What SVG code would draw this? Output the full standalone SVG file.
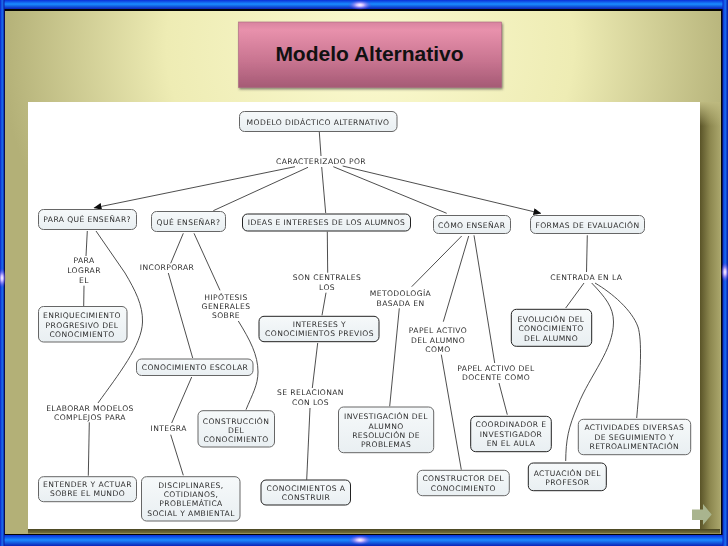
<svg xmlns="http://www.w3.org/2000/svg" width="728" height="546" viewBox="0 0 728 546">
<style>
.n{fill:url(#nf);stroke:#666;stroke-width:1}
.d{stroke:#222}
.c{fill:none;stroke:#3a3a3a;stroke-width:.9}
text{font-family:"DejaVu Sans",Verdana,sans-serif;font-size:7.6px;letter-spacing:.4px;fill:#2e2e2e;text-anchor:middle;dominant-baseline:central}
.tt{font-family:"Liberation Sans",Arial,sans-serif;font-size:21px;letter-spacing:0;font-weight:700;fill:#111}
</style>
<defs>
<linearGradient id="nf" x1="0" y1="0" x2="0" y2="1"><stop offset="0" stop-color="#f6f9fa"/><stop offset="1" stop-color="#e9eff2"/></linearGradient>
<radialGradient id="bg" gradientUnits="userSpaceOnUse" cx="370" cy="30" r="370" gradientTransform="translate(0 20) scale(1 .9)"><stop offset="0" stop-color="#fbfad0"/><stop offset=".55" stop-color="#eeecb4"/><stop offset="1" stop-color="#b3b077"/></radialGradient>
<linearGradient id="tb" x1="0" y1="0" x2="0" y2="1"><stop offset="0" stop-color="#d8839f"/><stop offset=".12" stop-color="#e891ac"/><stop offset=".6" stop-color="#c87490"/><stop offset="1" stop-color="#a55a75"/></linearGradient>
<linearGradient id="bh" x1="0" y1="0" x2="0" y2="1"><stop offset="0" stop-color="#0a2fd8"/><stop offset=".45" stop-color="#1a8cff"/><stop offset="1" stop-color="#0a22b8"/></linearGradient>
<linearGradient id="bv" x1="0" y1="0" x2="1" y2="0"><stop offset="0" stop-color="#0a22c8"/><stop offset=".5" stop-color="#1a70f0"/><stop offset="1" stop-color="#0a18a0"/></linearGradient>
<linearGradient id="sr" x1="0" y1="0" x2="1" y2="0"><stop offset="0" stop-color="#5a5428"/><stop offset=".5" stop-color="#8d8850"/><stop offset="1" stop-color="#aaa66c"/></linearGradient>
<linearGradient id="sf" x1="0" y1="0" x2="0" y2="1"><stop offset="0" stop-color="#bdb97f"/><stop offset="1" stop-color="#bdb97f" stop-opacity="0"/></linearGradient>
<linearGradient id="sb" x1="0" y1="0" x2="0" y2="1"><stop offset="0" stop-color="#4a4622"/><stop offset="1" stop-color="#77723c"/></linearGradient>
<radialGradient id="sp"><stop offset="0" stop-color="#fff"/><stop offset=".3" stop-color="#c8b8ff"/><stop offset="1" stop-color="#5a30e0" stop-opacity="0"/></radialGradient>
<marker id="ah" markerUnits="userSpaceOnUse" markerWidth="8" markerHeight="7" refX="7" refY="3.5" orient="auto"><path d="M0,0L8,3.5L0,7Z" fill="#111"/></marker>
<filter id="soft" x="-2%" y="-2%" width="104%" height="104%"><feGaussianBlur stdDeviation=".3"/></filter>
<filter id="ts" x="-5%" y="-10%" width="110%" height="125%"><feDropShadow dx="1" dy="1.5" stdDeviation="1" flood-color="#333" flood-opacity=".6"/></filter>
</defs>

<rect id="frame" width="728" height="546" fill="#050505"/>
<rect x="5" y="11" width="716" height="523" fill="url(#bg)"/>
<rect x="0" y="0" width="728" height="9" fill="url(#bh)"/>
<rect x="0" y="535" width="728" height="11" fill="url(#bh)"/>
<rect x="0" y="0" width="4.500" height="546" fill="url(#bv)"/>
<rect x="722.500" y="0" width="5.500" height="546" fill="url(#bv)"/>
<rect x="700" y="102" width="20.500" height="431" fill="url(#sr)"/>
<rect x="700" y="102" width="20.500" height="24" fill="url(#sf)"/>
<rect x="28" y="529" width="692" height="4.500" fill="url(#sb)"/>
<rect x="28" y="102" width="672" height="427" fill="#fff"/>
<ellipse cx="360" cy="5" rx="12" ry="5" fill="url(#sp)"/>
<ellipse cx="360" cy="540" rx="12" ry="5" fill="url(#sp)"/>
<ellipse cx="2" cy="278" rx="4" ry="10" fill="url(#sp)"/>
<ellipse cx="725" cy="272" rx="4" ry="10" fill="url(#sp)"/>

<g id="title">
<rect x="238.500" y="22" width="263" height="65.500" fill="url(#tb)" stroke="#a96a80" stroke-width=".6" filter="url(#ts)"/>
<text class="tt" x="369.500" y="53.500">Modelo Alternativo</text>
</g>

<g id="diagram" filter="url(#soft)">
<g id="connectors">
<path class="c" d="M319.300,132L321,156"/>
<path class="c" d="M321.700,167L325.700,213"/>
<path class="c" marker-end="url(#ah)" d="M295,166.700L94.500,207.800"/>
<path class="c" d="M308,167.300L213.300,210.700"/>
<path class="c" d="M333.300,166.700L446.700,213.300"/>
<path class="c" marker-end="url(#ah)" d="M342.700,166L540.500,213.300"/>
<path class="c" d="M87.300,231L86,256"/>
<path class="c" d="M84,285.700L83.700,306"/>
<path class="c" d="M96,231L125,273C135,290 143,305 142.500,322C142,345 118,375 98,403"/>
<path class="c" d="M89.300,422.300L88.300,475.700"/>
<path class="c" d="M183.300,233.300L170.700,263.300"/>
<path class="c" d="M168.300,273L192.700,358"/>
<path class="c" d="M194,233.300L220,290.300"/>
<path class="c" d="M238.300,321C250,340 258,355 258,372C258,385 252,395 246,409.700"/>
<path class="c" d="M191.700,377L171.700,423"/>
<path class="c" d="M170.700,434.700L183.300,475.300"/>
<path class="c" d="M327.300,231.700L327.700,272.700"/>
<path class="c" d="M326,292.700L322,315.300"/>
<path class="c" d="M317.700,343L312.300,388"/>
<path class="c" d="M310,408L306.700,479.700"/>
<path class="c" d="M461.700,236L411.700,286.700"/>
<path class="c" d="M399.300,308.300L389.700,406.300"/>
<path class="c" d="M468.700,236L443.300,321.700"/>
<path class="c" d="M441.300,354.700L461.300,469.700"/>
<path class="c" d="M474,235.300L494.700,363"/>
<path class="c" d="M499,383L507.300,414.700"/>
<path class="c" d="M587.300,235.300L586.500,272"/>
<path class="c" d="M584,283L565.700,308"/>
<path class="c" d="M591.700,283C605,297 613.500,307 613.500,322C613.500,350 590,375 578,405C568,428 566,440 565.700,461"/>
<path class="c" d="M595,283C612,293 632,310 638,327C642,340 641,370 636.700,418"/>
</g>

<g id="labels">
<text x="321" y="161">CARACTERIZADO POR</text>
<text x="84" y="260.700">PARA</text><text x="84" y="270">LOGRAR</text><text x="84" y="280.300">EL</text>
<text x="167" y="267">INCORPORAR</text>
<text x="226" y="297">HIPÓTESIS</text><text x="226" y="306">GENERALES</text><text x="226" y="315.500">SOBRE</text>
<text x="90" y="408">ELABORAR MODELOS</text><text x="90" y="417">COMPLEJOS PARA</text>
<text x="168.700" y="428.500">INTEGRA</text>
<text x="327" y="277">SON CENTRALES</text><text x="327" y="287">LOS</text>
<text x="310.500" y="392.500">SE RELACIONAN</text><text x="310.500" y="402">CON LOS</text>
<text x="400.500" y="293">METODOLOGÍA</text><text x="400.500" y="303">BASADA EN</text>
<text x="438" y="330.700">PAPEL ACTIVO</text><text x="438" y="340">DEL ALUMNO</text><text x="438" y="349.300">COMO</text>
<text x="496" y="368">PAPEL ACTIVO DEL</text><text x="496" y="377.700">DOCENTE COMO</text>
<text x="586.300" y="277.300">CENTRADA EN LA</text>
</g>

<g id="n-modelo"><rect class="n" x="239.500" y="111.500" width="157.500" height="20" rx="5"/><text x="318" y="122.300">MODELO DIDÁCTICO ALTERNATIVO</text></g>
<g id="n-para"><rect class="n" x="38.500" y="209.500" width="98" height="20" rx="5"/><text x="87.200" y="219.300">PARA QUÉ ENSEÑAR?</text></g>
<g id="n-que"><rect class="n" x="151.500" y="211.500" width="74" height="20" rx="5"/><text x="188.500" y="222.700">QUÉ ENSEÑAR?</text></g>
<g id="n-ideas"><rect class="n d" x="242.500" y="214" width="168" height="17" rx="5"/><text x="326.500" y="222">IDEAS E INTERESES DE LOS ALUMNOS</text></g>
<g id="n-como"><rect class="n" x="433.500" y="215.500" width="77" height="18" rx="5"/><text x="471.700" y="225.300">CÓMO ENSEÑAR</text></g>
<g id="n-formas"><rect class="n" x="530.500" y="215.500" width="114" height="18" rx="5"/><text x="587.500" y="225.300">FORMAS DE EVALUACIÓN</text></g>
<g id="n-enriq"><rect class="n" x="38.500" y="306.500" width="88.500" height="35.500" rx="5"/><text x="82" y="315.300">ENRIQUECIMIENTO</text><text x="82" y="325">PROGRESIVO DEL</text><text x="82" y="334">CONOCIMIENTO</text></g>
<g id="n-escolar"><rect class="n" x="136.500" y="359" width="116.500" height="16.500" rx="5"/><text x="195" y="367">CONOCIMIENTO ESCOLAR</text></g>
<g id="n-construccion"><rect class="n" x="198" y="410.700" width="76.500" height="36.300" rx="5"/><text x="236" y="421">CONSTRUCCIÓN</text><text x="236" y="430.300">DEL</text><text x="236" y="439.700">CONOCIMIENTO</text></g>
<g id="n-entender"><rect class="n" x="38.500" y="476.700" width="98" height="25" rx="5"/><text x="87.500" y="484">ENTENDER Y ACTUAR</text><text x="87.500" y="493.700">SOBRE EL MUNDO</text></g>
<g id="n-disc"><rect class="n" x="141.500" y="476.700" width="98.500" height="44.300" rx="5"/><text x="191" y="485">DISCIPLINARES,</text><text x="191" y="494.700">COTIDIANOS,</text><text x="191" y="503.700">PROBLEMÁTICA</text><text x="191" y="513">SOCIAL Y AMBIENTAL</text></g>
<g id="n-construir"><rect class="n d" x="261" y="480" width="89.500" height="25" rx="5"/><text x="306" y="488">CONOCIMIENTOS A</text><text x="306" y="497.300">CONSTRUIR</text></g>
<g id="n-intereses"><rect class="n d" x="259" y="316.300" width="120" height="25.400" rx="5"/><text x="319.500" y="324">INTERESES Y</text><text x="319.500" y="333.300">CONOCIMIENTOS PREVIOS</text></g>
<g id="n-invest"><rect class="n" x="338.500" y="407" width="95.200" height="45.700" rx="5"/><text x="386" y="416.700">INVESTIGACIÓN DEL</text><text x="386" y="426">ALUMNO</text><text x="386" y="435.300">RESOLUCIÓN DE</text><text x="386" y="444.700">PROBLEMAS</text></g>
<g id="n-coord"><rect class="n d" x="470.700" y="416.300" width="80.600" height="35.400" rx="5"/><text x="511" y="424.700">COORDINADOR E</text><text x="511" y="434">INVESTIGADOR</text><text x="511" y="443.300">EN EL AULA</text></g>
<g id="n-constructor"><rect class="n" x="417.300" y="470.300" width="92" height="25.400" rx="5"/><text x="463.300" y="478.700">CONSTRUCTOR DEL</text><text x="463.300" y="488">CONOCIMIENTO</text></g>
<g id="n-actuacion"><rect class="n d" x="528.300" y="463" width="78" height="27.700" rx="5"/><text x="567.300" y="473.300">ACTUACIÓN DEL</text><text x="567.300" y="482.700">PROFESOR</text></g>
<g id="n-activ"><rect class="n" x="578.300" y="419.300" width="112.400" height="35.400" rx="5"/><text x="634.300" y="427.700">ACTIVIDADES DIVERSAS</text><text x="634.300" y="437">DE SEGUIMIENTO Y</text><text x="634.300" y="446.300">RETROALIMENTACIÓN</text></g>
<g id="n-evol"><rect class="n d" x="511.300" y="309.300" width="80.400" height="37" rx="5"/><text x="551" y="319.300">EVOLUCIÓN DEL</text><text x="551" y="328.700">CONOCIMIENTO</text><text x="551" y="338">DEL ALUMNO</text></g>
</g>

<path id="next" d="M692,509.500H703V504L711.700,514.500L703,525V520H692Z" fill="#a9b48e"/>
</svg>
